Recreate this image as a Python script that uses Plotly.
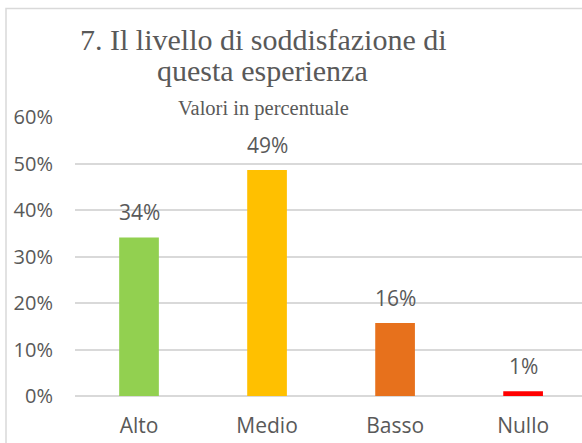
import plotly.graph_objects as go

categories = ["Alto", "Medio", "Basso", "Nullo"]
values = [34.1, 48.6, 15.7, 1.0]
bar_colors = ["#92D050", "#FFC000", "#E7711C", "#FF0000"]
y_ticks = [0, 10, 20, 30, 40, 50, 60]
y_tick_labels = ["0%", "10%", "20%", "30%", "40%", "50%", "60%"]
title_line1 = "7. Il livello di soddisfazione di"
title_line2 = "questa esperienza"
subtitle = "Valori in percentuale"

W, H = 582, 443
L, R, T, B = 75, 0, 117, 47
plot_h = H - T - B
plot_w = W - L - R

def px_x(px):
    return (px - L) / plot_w

def px_y(py):
    return (H - B - py) / plot_h

text_col = "#595959"
grid_col = "#D9D9D9"

fig = go.Figure()
fig.add_trace(go.Bar(
    x=categories, y=values, marker_color=bar_colors, width=0.31,
    marker_line_width=0, hoverinfo="skip",
))

annotations = []
for c, v in zip(categories, values):
    annotations.append(dict(
        x=c, y=v, xref="x", yref="y", text=f"{round(v)}%", showarrow=False,
        yanchor="bottom", yshift=9,
        font=dict(family="Open Sans", size=21, color=text_col),
    ))

serif = "Liberation Serif"
annotations.append(dict(x=px_x(263.5), y=px_y(39), xref="paper", yref="paper",
                        text=title_line1, showarrow=False, xanchor="center", yanchor="middle",
                        font=dict(family=serif, size=30, color=text_col)))
annotations.append(dict(x=px_x(262.5), y=px_y(70), xref="paper", yref="paper",
                        text=title_line2, showarrow=False, xanchor="center", yanchor="middle",
                        font=dict(family=serif, size=30, color=text_col)))
annotations.append(dict(x=px_x(263.5), y=px_y(108.5), xref="paper", yref="paper",
                        text=subtitle, showarrow=False, xanchor="center", yanchor="middle",
                        font=dict(family=serif, size=20.5, color=text_col)))

fig.update_layout(
    width=W, height=H,
    margin=dict(l=L, r=R, t=T, b=B, pad=0),
    paper_bgcolor="white", plot_bgcolor="white",
    showlegend=False,
    annotations=annotations,
    shapes=[dict(type="rect", xref="paper", yref="paper",
                 x0=px_x(6), x1=px_x(700), y0=px_y(700), y1=px_y(8.5),
                 line=dict(color=grid_col, width=1.5), fillcolor="rgba(0,0,0,0)", layer="below")],
    xaxis=dict(range=[-0.5, 3.46], showgrid=False, showline=False, zeroline=False,
               ticks="", ticklabelstandoff=15,
               tickfont=dict(family="Open Sans", size=21, color=text_col)),
    yaxis=dict(range=[0, 60], tickvals=y_ticks, ticktext=y_tick_labels,
               showgrid=True, gridcolor=grid_col, gridwidth=1.5,
               zeroline=True, zerolinecolor=grid_col, zerolinewidth=1.5,
               showline=False, ticks="", ticklabelstandoff=21,
               tickfont=dict(family="Open Sans", size=20, color=text_col)),
)

fig.write_html("out.html", config={"displayModeBar": False},
               post_script="document.body.style.margin='0';document.body.style.overflow='hidden';")
